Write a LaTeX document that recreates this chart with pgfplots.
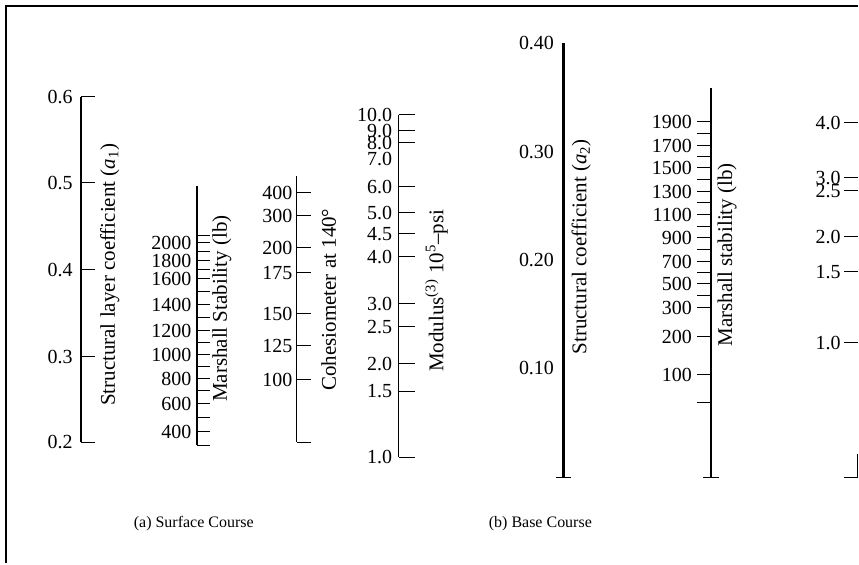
\documentclass[border=0pt]{standalone}
\usepackage{pgfplots}
\pgfplotsset{compat=1.18}
\usepackage{pgfplotstable}
\usepackage{fontspec}
\setmainfont{Liberation Serif}

% scale positions are in pixels of the original figure (y measured from the top)
\pgfplotstableread{
y lab len
97 0.6 14
183 0.5 14
270 0.4 14
357 0.3 14
443 0.2 14
}\aone

\pgfplotstableread{
y lab len
236 {} 13
243 2000 13
252 {} 13
261 1800 13
270 {} 13
279 1600 13
292 {} 13
305 1400 13
318 {} 13
331 1200 13
343 {} 13
355 1000 13
367 {} 13
379 800 13
391 {} 13
404 600 13
418 {} 13
432 400 13
446 {} 13
}\mssurf

\pgfplotstableread{
y lab len
193 400 14
216 300 14
248 200 14
273 175 14
314 150 14
346 125 14
380 100 14
443 {} 14
}\cohes

\pgfplotstableread{
y lab len
115 10.0 16
131 9.0 16
143 8.0 16
159 7.0 0
187 6.0 16
213 5.0 16
234 4.5 16
257 4.0 16
304 3.0 16
327 2.5 16
364 2.0 16
392 1.5 16
458 1.0 16
}\modul

\pgfplotstableread{
y lab len
43 0.40 0
152 0.30 0
260 0.20 0
368 0.10 0
}\atwo

\pgfplotstableread{
y lab len
122 1900 14
134 {} 14
146 1700 14
157 {} 14
168 1500 14
180 {} 14
192 1300 14
203 {} 14
215 1100 14
227 {} 14
238 900 14
250 {} 14
262 700 14
273 {} 14
284 500 14
296 {} 14
308 300 14
337 200 14
375 100 14
403 {} 14
}\msbase

\pgfplotstableread{
y lab len
123 4.0 14
178 3.0 14
191 2.5 14
237 2.0 14
272 1.5 14
343 1.0 14
478 {} 14
}\rightsc

\pgfplotsset{
  scaleticks/.style n args={2}{
    only marks, mark=none,
    point meta=explicit symbolic,
    nodes near coords,
    every node near coord/.append style={anchor=east, inner sep=0pt,
      xshift=#2, font=\fontsize{10}{10}\selectfont},
    error bars/.cd, x dir=#1, x explicit, error mark=none,
    error bar style={black, line width=0.5pt}},
  scaleline/.style={black, line width=#1, mark=none},
}

\begin{document}
\begin{tikzpicture}
\begin{axis}[
  width=429.5pt, height=282pt, scale only axis,
  xmin=0, xmax=859, ymin=0, ymax=564, y dir=reverse,
  hide axis, clip=false]

% keep the whole page area
\addplot[draw=none, mark=none, forget plot] coordinates {(0,0) (859,564)};

% frame
\addplot[scaleline=1pt] coordinates {(6.5,564) (6.5,6.5) (859,6.5)};

% (a) surface course
\addplot[scaleline=0.8pt] coordinates {(81,97) (81,443)};
\addplot[scaleticks={plus}{-4pt}] table[x expr=81, y=y, x error=len, meta=lab] {\aone};

\addplot[scaleline=0.8pt] coordinates {(197,186) (197,446)};
\addplot[scaleticks={plus}{-2.5pt}] table[x expr=197, y=y, x error=len, meta=lab] {\mssurf};

\addplot[scaleline=0.8pt] coordinates {(297,176) (297,443)};
\addplot[scaleticks={plus}{-2pt}] table[x expr=297, y=y, x error=len, meta=lab] {\cohes};

\addplot[scaleline=0.8pt] coordinates {(399,115) (399,458)};
\addplot[scaleticks={plus}{-3pt}] table[x expr=399, y=y, x error=len, meta=lab] {\modul};

% (b) base course
\addplot[scaleline=1.2pt] coordinates {(564,43) (564,478)};
\addplot[scaleline=0.8pt] coordinates {(557,478) (572,478)};
\addplot[scaleticks={minus}{-4.5pt}] table[x expr=564, y=y, x error=len, meta=lab] {\atwo};

\addplot[scaleline=1.2pt] coordinates {(712,88) (712,478)};
\addplot[scaleline=0.8pt] coordinates {(704,478) (720,478)};
\addplot[scaleticks={minus}{-9.5pt}] table[x expr=712, y=y, x error=len, meta=lab] {\msbase};

% third base-course scale, cut by the page edge
\addplot[scaleline=0.8pt] coordinates {(858.6,455) (858.6,478)};
\addplot[scaleticks={minus}{-8.5pt}] table[x expr=859, y=y, x error=len, meta=lab] {\rightsc};

% scale titles
\begin{scope}[font=\fontsize{10.5}{10.5}\selectfont]
\node[rotate=90] at (axis cs:110,275) {Structural layer coefficient (\textit{a}\textsubscript{1})};
\node[rotate=90] at (axis cs:222,309) {Marshall Stability (lb)};
\node[rotate=90] at (axis cs:329,300) {Cohesiometer at 140°};
\node[rotate=90] at (axis cs:437,291) {Modulus\textsuperscript{(3)} 10\textsuperscript{5}–psi};
\node[rotate=90] at (axis cs:582,247) {Structural coefficient (\textit{a}\textsubscript{2})};
\node[rotate=90] at (axis cs:728,255) {Marshall stability (lb)};
\end{scope}

% captions
\node[font=\fontsize{8}{8}\selectfont] at (axis cs:194,524) {(a) Surface Course};
\node[font=\fontsize{8}{8}\selectfont] at (axis cs:541,524) {(b) Base Course};
\end{axis}
\end{tikzpicture}
\end{document}
